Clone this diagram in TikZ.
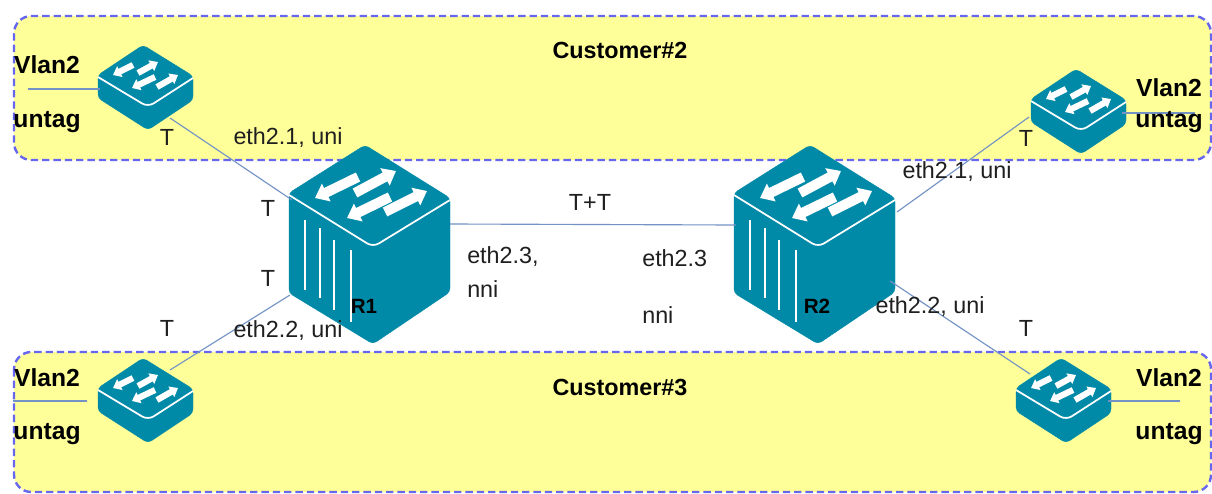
\documentclass[tikz,border=0pt]{standalone}
\usepackage{fontspec}
\setmainfont{Liberation Sans}
\usetikzlibrary{arrows.meta}
\definecolor{swteal}{HTML}{008AA8}
\definecolor{zoneyellow}{HTML}{FFFF99}
\definecolor{zonedash}{HTML}{6666EE}
\definecolor{linkblue}{HTML}{7393C4}
\tikzset{
  x=0.75pt,y=-0.75pt,
  zone/.style={fill=zoneyellow,draw=zonedash,line width=1.8pt,dash pattern=on 5.5pt off 3pt,rounded corners=13pt},
  link/.style={draw=linkblue,line width=0.85pt},
  lbl/.style={font=\fontsize{17.5}{19}\selectfont,inner sep=0pt,text=black!88},
  blbl/.style={font=\fontsize{18.5}{20}\bfseries\selectfont,inner sep=0pt,text=black},
  zlbl/.style={font=\fontsize{17.5}{19}\bfseries\selectfont,inner sep=0pt,text=black},
  rlbl/.style={font=\fontsize{15.5}{17}\bfseries\selectfont,inner sep=0pt,text=black},
  swbody/.style={fill=swteal,draw=swteal,line width=0.3pt,rounded corners=3pt},
  swrim/.style={draw=white,line width=1.3pt,line join=round,rounded corners=5pt},
  swbox/.style={inner sep=0pt,outer sep=0pt},
  stripe/.style={draw=white,line width=1.4pt},
}
\newcommand{\lidarrow}[3]{\draw[white,line width=#3,-{Triangle[length=1.25*#3,width=1.9*#3]}] #1 -- #2;}
\newcommand{\smallsw}[3]{%
  \begin{scope}[shift={(#2,#3)}]
    \node[swbox,minimum width=71pt,minimum height=64pt] (#1) at (2.5,42.5) {};
    \path[swbody] (0,0) -- (50,31) -- (50,55) -- (5,85) -- (-45,53) -- (-45,30) -- cycle;
    \path[swrim] (-45,32) -- (5,62) -- (50,33);
    \lidarrow{(-10,20)}{(-30,30)}{4.6pt}
    \lidarrow{(-5,28)}{(15,17)}{4.6pt}
    \lidarrow{(12,32)}{(-11,43)}{4.6pt}
    \lidarrow{(14,42)}{(35,30)}{4.6pt}
  \end{scope}}
\newcommand{\bigsw}[3]{%
  \begin{scope}[shift={(#2,#3)}]
    \node[swbox,minimum width=121pt,minimum height=149pt] (#1) at (4.5,99.5) {};
    \path[swbody] (0,0) -- (85,53) -- (85,147) -- (8,199) -- (-76,148) -- (-76,48) -- cycle;
    \path[swrim] (-76,50) -- (8,102) -- (85,55);
    \lidarrow{(-7,32)}{(-50,53)}{7.5pt}
    \lidarrow{(-10,48)}{(31,26)}{7.5pt}
    \lidarrow{(25,52)}{(-18,73)}{7.5pt}
    \lidarrow{(20,67)}{(62,46)}{7.5pt}
    \draw[stripe] (-60,75) -- (-60,145);
    \draw[stripe] (-45,83) -- (-45,153);
    \draw[stripe] (-31,95) -- (-31,165);
    \draw[stripe] (-14,105) -- (-14,177);
  \end{scope}}
\begin{document}
\begin{tikzpicture}
\useasboundingbox (0,0) rectangle (1212,493);
\fill[white] (0,0) rectangle (1212,493);
\begin{scope}
\clip (0,0) rectangle (1212,493);
\draw[zone] (14,16) rectangle (1211,160);
\draw[zone] (14,352) rectangle (1211,492);
\end{scope}
\smallsw{swa}{143}{45}
\smallsw{swb}{143}{358}
\smallsw{swc}{1076}{69}
\smallsw{swd}{1061}{358}
\bigsw{rone}{365}{145}
\bigsw{rtwo}{810}{145}
% free ends and ports of the connectors
\coordinate (vla) at (28,89);   \coordinate (pa) at (100,89);
\coordinate (vlb) at (13,401);  \coordinate (pb) at (87,401);
\coordinate (vlc) at (1195,113);\coordinate (pc) at (1122,113);
\coordinate (vld) at (1180,401);\coordinate (pd) at (1108,401);
\coordinate (sa) at (170,118);  \coordinate (ra) at (292,200);
\coordinate (sb) at (170,370);  \coordinate (rb) at (290,295);
\coordinate (sc) at (1029,117); \coordinate (tc) at (897,212);
\coordinate (sd) at (1030,374); \coordinate (td) at (890,281);
\coordinate (rm) at (450,224);  \coordinate (tm) at (736,225);
\draw[link] (vla) -- (pa);
\draw[link] (vlb) -- (pb);
\draw[link] (vlc) -- (pc);
\draw[link] (vld) -- (pd);
\draw[link] (sa) -- (ra);
\draw[link] (sb) -- (rb);
\draw[link] (sc) -- (tc);
\draw[link] (sd) -- (td);
\draw[link] (rm) -- (tm);
% labels
\node[zlbl] (za) at (620,50) {Customer\#2};
\node[zlbl] (zb) at (620,387) {Customer\#3};
\node[blbl] (a1) at (47,65) {Vlan2};
\node[blbl] (a2) at (47,122) {untag};
\node[blbl] (b1) at (47,378) {Vlan2};
\node[blbl] (b2) at (47,434) {untag};
\node[blbl] (c1) at (1169,88) {Vlan2};
\node[blbl] (c2) at (1169,122) {untag};
\node[blbl] (d1) at (1169,378) {Vlan2};
\node[blbl] (d2) at (1169,434) {untag};
\node[rlbl] (n1) at (364,306) {R1};
\node[rlbl] (n2) at (817,306) {R2};
\node[lbl] (t1) at (167,137) {T};
\node[lbl] (e1) at (288,138) {eth2.1, uni};
\node[lbl] (t2) at (268,208) {T};
\node[lbl] (t3) at (268,278) {T};
\node[lbl] (t4) at (167,328) {T};
\node[lbl] (e2) at (288,331) {eth2.2, uni};
\node[lbl] (tt) at (590,202) {T+T};
\node[lbl,anchor=west] (e3) at (467,257) {eth2.3,};
\node[lbl,anchor=west] (e4) at (467,289) {nni};
\node[lbl,anchor=west] (e5) at (642,258) {eth2.3};
\node[lbl,anchor=west] (e6) at (642,315) {nni};
\node[lbl] (e7) at (957,172) {eth2.1, uni};
\node[lbl] (e8) at (930,307) {eth2.2, uni};
\node[lbl] (t5) at (1026,138) {T};
\node[lbl] (t6) at (1026,328) {T};
\end{tikzpicture}
\end{document}
